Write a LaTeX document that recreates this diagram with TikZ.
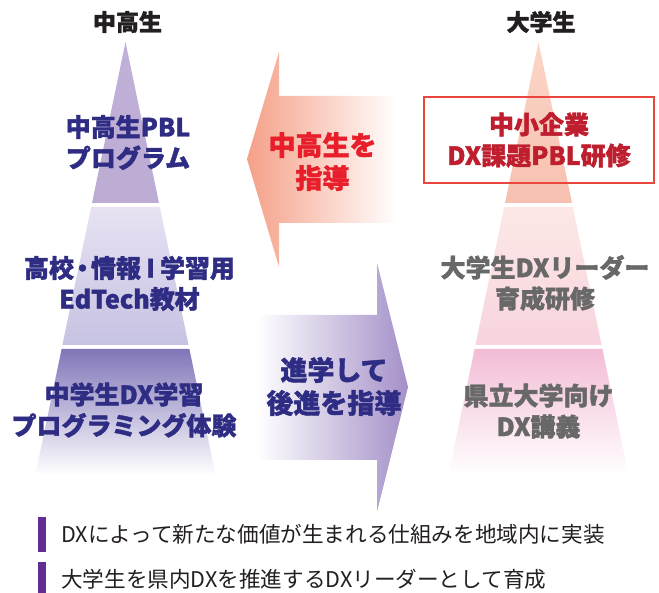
\documentclass[tikz,border=0pt]{standalone}
\usepackage{fontspec}
\setmainfont{Noto Sans CJK JP}[BoldFeatures={FakeBold=1.5}]
\usepackage{tikz}

\definecolor{lilac}{RGB}{193,177,216}
\definecolor{lilacB}{RGB}{188,172,212}
\definecolor{paleA}{RGB}{232,226,243}
\definecolor{paleB}{RGB}{198,194,226}
\definecolor{deepA}{RGB}{128,118,184}
\definecolor{deepM}{RGB}{198,194,228}
\definecolor{peachA}{RGB}{251,214,200}
\definecolor{peachB}{RGB}{247,192,176}
\definecolor{pinkA}{RGB}{252,232,230}
\definecolor{pinkB}{RGB}{248,212,222}
\definecolor{roseA}{RGB}{243,188,214}
\definecolor{roseM}{RGB}{250,222,236}
\definecolor{salmon}{RGB}{245,160,136}
\definecolor{plum}{RGB}{164,144,200}
\definecolor{navy}{RGB}{46,45,131}
\definecolor{alert}{RGB}{232,30,42}
\definecolor{wine}{RGB}{190,30,45}
\definecolor{boxline}{RGB}{232,70,62}
\definecolor{stone}{RGB}{104,104,104}
\definecolor{ink}{RGB}{35,31,32}
\definecolor{violet}{RGB}{100,45,145}

\begin{document}
\begin{tikzpicture}[x=1pt,y=-1pt,
	lbl/.style={align=center,inner sep=0pt,font=\bfseries\fontsize{25}{31}\selectfont},
	big/.style={lbl,font=\bfseries\fontsize{27}{33}\selectfont},
	head/.style={inner sep=0pt,text=ink,font=\bfseries\fontsize{23}{26}\selectfont},
	note/.style={anchor=west,inner sep=0pt,text=ink,font=\fontsize{21.6}{25}\selectfont}]
			\useasboundingbox (0,0) rectangle (659,593);

			%Pyramids
			\foreach \cx/\ta/\tb/\ma/\mb/\ba/\bm in {125.5/lilac/lilacB/paleA/paleB/deepA/deepM, 538.5/peachA/peachB/pinkA/pinkB/roseA/roseM}{
				\shade[top color=\ta,bottom color=\tb] (\cx,42) -- ({\cx+33.5},203) -- ({\cx-33.5},203) -- cycle;
				\shade[top color=\ma,bottom color=\mb] ({\cx-34.3},207) -- ({\cx+34.3},207) -- ({\cx+63.1},345) -- ({\cx-63.1},345) -- cycle;
				\shade[top color=\ba,middle color=\bm,bottom color=white] ({\cx-63.9},349) -- ({\cx+63.9},349) -- ({\cx+90.1},475) -- ({\cx-90.1},475) -- cycle;
			}

			%Arrows
			\shade[left color=salmon,right color=white] (247,159) -- (279,52) -- (279,96) -- (397,96) -- (397,223) -- (279,223) -- (279,267) -- cycle;
			\shade[left color=white,right color=plum] (257,315) -- (377,315) -- (377,263) -- (408,387) -- (377,512) -- (377,460) -- (257,460) -- cycle;

			%Headings
			\node[head] (jhs) at (127.5,22) {中高生};
			\node[head] (univ) at (541,22) {大学生};

			%Left steps
			\node[lbl,text=navy] (pbl) at (128,142.5) {中高生PBL\\プログラム};
			\node[lbl,text=navy] (edtech) at (129.5,283.5) {高校\kern-4pt・\kern-4pt 情報\kern-3pt Ⅰ\kern-3pt 学習用\\EdTech教材};
			\node[lbl,text=navy] (prog) at (124,410) {中学生DX学習\\プログラミング体験};

			%Arrow texts
			\node[big,text=alert] (teach) at (322.5,161.5) {中高生を\\指導};
			\node[big,text=navy] (advance) at (334,386.5) {進学して\\後進を指導};

			%Right steps
			\node[lbl,text=wine,draw=boxline,line width=1.5pt,minimum width=230pt,minimum height=86pt] (sme) at (539,140) {中小企業\\DX課題PBL研修};
			\node[lbl,text=stone] (leader) at (545,283) {大学生DXリーダー\\育成研修};
			\node[lbl,text=stone] (lecture) at (538.5,411) {県立大学向け\\DX講義};

			%Goals
			\fill[violet] (38,517) rectangle (46,552);
			\fill[violet] (38,562) rectangle (46,597);
			\node[note] (goalA) at (61,534) {DXによって新たな価値が生まれる仕組みを地域内に実装};
			\node[note] (goalB) at (61,579) {大学生を県内DXを推進するDXリーダーとして育成};
\end{tikzpicture}
\end{document}
